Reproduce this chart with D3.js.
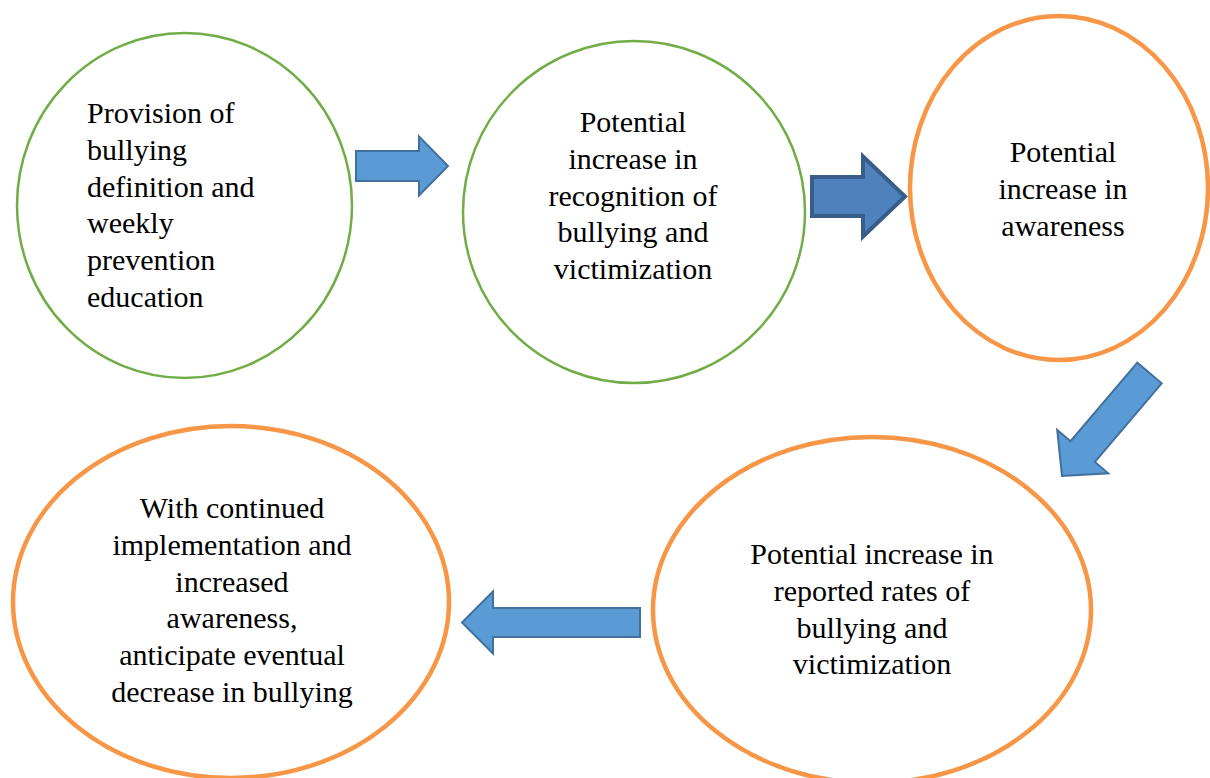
<!DOCTYPE html>
<html>
<head>
<meta charset="utf-8">
<script src="https://cdn.jsdelivr.net/npm/d3@7"></script>
</head>
<body style="margin:0">
<div id="chart"></div>
<script>
const WIDTH = 1210;
const HEIGHT = 778;
const FONT_SIZE = 30;
const LINE_HEIGHT = 36.8;

// steps of the cycle, text as wrapped in the figure
const stepLabels = [
    ['Provision of', 'bullying', 'definition and', 'weekly', 'prevention', 'education'],
    ['Potential', 'increase in', 'recognition of', 'bullying and', 'victimization'],
    ['Potential', 'increase in', 'awareness'],
    ['Potential increase in', 'reported rates of', 'bullying and', 'victimization'],
    ['With continued', 'implementation and', 'increased', 'awareness,', 'anticipate eventual', 'decrease in bullying']
];
const stepKinds = ['input', 'input', 'outcome', 'outcome', 'outcome'];

// arrows: from step index -> to step index
const links = [[0, 1], [1, 2], [2, 3], [3, 4]];

// layout (kept apart from the data)
const ellipseLayout = [
    { cx: 184.5, cy: 205.5, rx: 167.5, ry: 172.5, align: 'start', tx: 87, firstBase: 123 },
    { cx: 634, cy: 212, rx: 171, ry: 171, align: 'middle', tx: 633, firstBase: 132 },
    { cx: 1059, cy: 188, rx: 149, ry: 172, align: 'middle', tx: 1063, firstBase: 162 },
    { cx: 872, cy: 610, rx: 219, ry: 173, align: 'middle', tx: 872, firstBase: 564 },
    { cx: 231, cy: 602, rx: 218, ry: 176, align: 'middle', tx: 232, firstBase: 518 }
];
const arrowLayout = [
    { x0: 356, y0: 166, x1: 448, y1: 166, body: 15, head: 29.5, headLen: 29, style: 'light' },
    { x0: 812, y0: 196.5, x1: 905, y1: 196.5, body: 19.5, head: 40, headLen: 42, style: 'dark' },
    { x0: 1149.5, y0: 373, x1: 1062, y1: 476, body: 16, head: 33.5, headLen: 32, style: 'light' },
    { x0: 640, y0: 622.5, x1: 462, y1: 622.5, body: 14.5, head: 31, headLen: 31, style: 'light' }
];

const strokeByKind = {
    input: { color: '#70ad47', width: 2.5 },
    outcome: { color: '#f79646', width: 4.5 }
};
const arrowStyles = {
    light: { fill: '#5b9bd5', stroke: '#41719c', width: 2 },
    dark: { fill: '#4f81bd', stroke: '#385d8a', width: 4 }
};

const svg = d3.select('#chart')
    .append('svg')
    .attr('width', WIDTH)
    .attr('height', HEIGHT)
    .attr('font-family', 'Times New Roman')
    .style('display', 'block');

const steps = stepLabels.map((lines, i) => ({ lines, kind: stepKinds[i], ...ellipseLayout[i] }));

svg.selectAll('ellipse')
    .data(steps)
    .enter()
    .append('ellipse')
    .attr('cx', d => d.cx)
    .attr('cy', d => d.cy)
    .attr('rx', d => d.rx)
    .attr('ry', d => d.ry)
    .attr('fill', '#fff')
    .attr('stroke', d => strokeByKind[d.kind].color)
    .attr('stroke-width', d => strokeByKind[d.kind].width);

// one text element per line
const lineRows = steps.flatMap(s => s.lines.map((text, j) => ({
    text,
    x: s.tx,
    y: s.firstBase + j * LINE_HEIGHT,
    anchor: s.align
})));

svg.selectAll('text')
    .data(lineRows)
    .enter()
    .append('text')
    .attr('x', d => d.x)
    .attr('y', d => d.y)
    .attr('text-anchor', d => d.anchor)
    .attr('font-size', FONT_SIZE)
    .attr('font-family', 'Times New Roman')
    .style('font-family', '"Times New Roman"')
    .text(d => d.text);

// block arrow outline in local coords, pointing along +x
const arrowShape = (len, body, head, headLen) => [
    [0, -body], [len - headLen, -body], [len - headLen, -head], [len, 0],
    [len - headLen, head], [len - headLen, body], [0, body]
];

const line = d3.line().curve(d3.curveLinearClosed);

const arrows = links.map((link, i) => ({ link, ...arrowLayout[i] }));

svg.selectAll('.arrow')
    .data(arrows)
    .enter()
    .append('path')
    .classed('arrow', true)
    .attr('d', d => {
        const len = Math.hypot(d.x1 - d.x0, d.y1 - d.y0);
        return line(arrowShape(len, d.body, d.head, d.headLen));
    })
    .attr('transform', d => {
        const angle = Math.atan2(d.y1 - d.y0, d.x1 - d.x0) * 180 / Math.PI;
        return `translate(${d.x0} ${d.y0}) rotate(${angle})`;
    })
    .attr('fill', d => arrowStyles[d.style].fill)
    .attr('stroke', d => arrowStyles[d.style].stroke)
    .attr('stroke-width', d => arrowStyles[d.style].width)
    .attr('stroke-linejoin', 'miter');
</script>
</body>
</html>
